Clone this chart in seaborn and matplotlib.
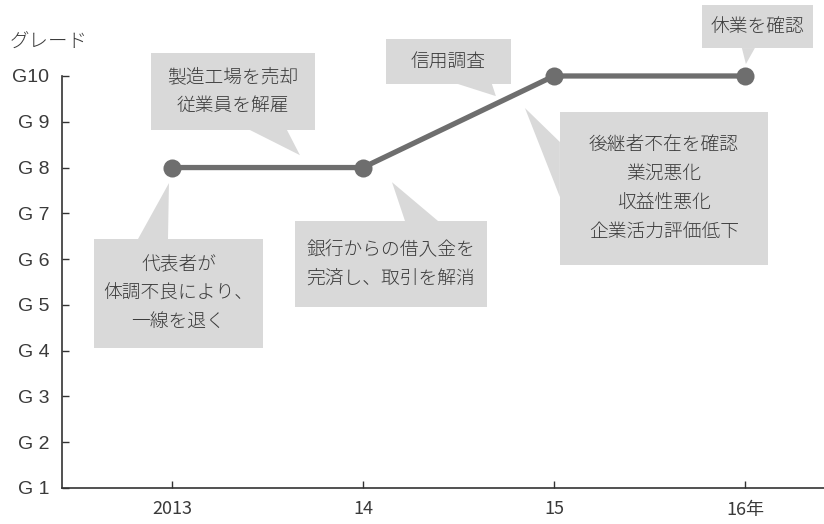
import matplotlib
matplotlib.use("Agg")
import matplotlib.pyplot as plt
import seaborn as sns
import pandas as pd
from matplotlib.patches import Rectangle, Polygon

# Rating history
years = ["2013", "14", "15", "16年"]
grades = [8, 8, 10, 10]
grade_labels = ["G 1", "G 2", "G 3", "G 4", "G 5", "G 6", "G 7", "G 8", "G 9", "G10"]

# Callout texts
notes = [
    "製造工場を売却\n従業員を解雇",
    "信用調査",
    "休業を確認",
    "後継者不在を確認\n業況悪化\n収益性悪化\n企業活力評価低下",
    "代表者が\n体調不良により、\n一線を退く",
    "銀行からの借入金を\n完済し、取引を解消",
]

# Callout geometry in data units: box (x0, x1, y0, y1), pointer base points, pointer tip
callout_layout = [
    dict(box=(-0.110, 0.749, 8.82, 10.50), base=[(0.408, 8.82), (0.602, 8.82)], tip=(0.670, 8.27)),
    dict(box=(1.120, 1.775, 9.825, 10.81), base=[(1.497, 9.825), (1.675, 9.825)], tip=(1.696, 9.56)),
    dict(box=(2.775, 3.356, 10.61, 11.55), base=[(2.984, 10.61), (3.052, 10.61)], tip=(3.005, 10.26)),
    dict(box=(2.031, 3.120, 5.871, 9.213), base=[(2.031, 8.558), (2.031, 7.357)], tip=(1.848, 9.30)),
    dict(box=(-0.408, 0.476, 4.058, 6.439), base=[(-0.178, 6.439), (-0.021, 6.439)], tip=(-0.016, 7.66)),
    dict(box=(0.644, 1.649, 4.954, 6.832), base=[(1.220, 6.832), (1.393, 6.832)], tip=(1.152, 7.68)),
]

LINE = "#6e6e6e"
BOX = "#d9d9d9"
TEXT = "#3a3a3a"
AXIS = "#333333"

sns.set_theme(style="white")
plt.rcParams["font.family"] = ["Noto Sans CJK JP", "DejaVu Sans"]

fig = plt.figure(figsize=(8.24, 5.24), dpi=100)
ax = fig.add_axes([62 / 824, 36 / 524, 762 / 824, 488 / 524])

df = pd.DataFrame({"x": range(len(years)), "grade": grades})

# Callout boxes sit behind the line
for text, lay in zip(notes, callout_layout):
    x0, x1, y0, y1 = lay["box"]
    ax.add_patch(Rectangle((x0, y0), x1 - x0, y1 - y0, facecolor=BOX,
                           edgecolor="none", zorder=1, clip_on=False))
    ax.add_patch(Polygon(lay["base"] + [lay["tip"]], closed=True, facecolor=BOX,
                         edgecolor="none", zorder=1, clip_on=False))
    ax.text((x0 + x1) / 2, (y0 + y1) / 2, text, ha="center", va="center",
            fontsize=13.5, color=TEXT, linespacing=1.8, fontweight="light", zorder=2)

sns.lineplot(data=df, x="x", y="grade", ax=ax, color=LINE, linewidth=3.8,
             marker="o", markersize=13, markeredgewidth=0, zorder=3)
for line in ax.lines:
    line.set_clip_on(False)

ax.set_xlim(-0.576, 3.414)
ax.set_ylim(1, 1 + 488 / 45.78)
ax.set_xticks(range(len(years)))
ax.set_xticklabels(years)
ax.set_yticks(range(1, 11))
ax.set_yticklabels(grade_labels)
ax.set_xlabel("")
ax.set_ylabel("")

for side in ("top", "right"):
    ax.spines[side].set_visible(False)
for side in ("left", "bottom"):
    ax.spines[side].set_color(AXIS)
    ax.spines[side].set_linewidth(1.2)
ax.spines["left"].set_bounds(1, 10)

ax.tick_params(axis="both", direction="in", length=5, width=1, color=AXIS,
               labelcolor=TEXT, left=True, bottom=True)
ax.tick_params(axis="y", pad=9, labelsize=14)
ax.tick_params(axis="x", pad=9, labelsize=13)
for lab in ax.get_xticklabels():
    lab.set_family(["Liberation Sans Narrow", "Noto Sans CJK JP", "DejaVu Sans"])
for lab in ax.get_yticklabels():
    lab.set_family(["Liberation Sans", "DejaVu Sans"])

fig.text(10 / 824, 1 - 42 / 524, "グレード", ha="left", va="center",
         fontsize=14, fontweight="light", color=TEXT)

fig.savefig("out.png", dpi=100)
